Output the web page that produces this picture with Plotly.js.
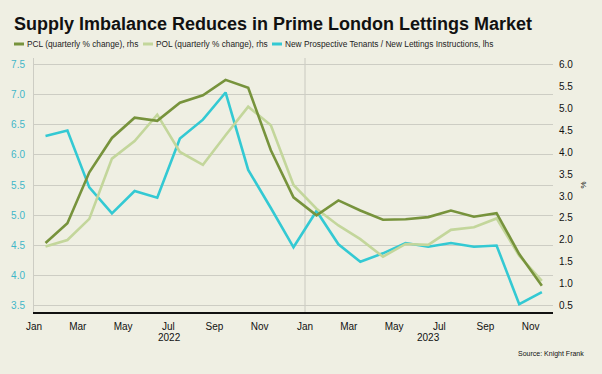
<!DOCTYPE html>
<html><head><meta charset="utf-8">
<script src="https://cdn.plot.ly/plotly-3.0.1.min.js"></script>
<style>html,body{margin:0;padding:0;background:#efefe3;}#chart{width:602px;height:374px;}</style>
</head><body><div id="chart"></div>
<script>
const months = ["2022-01","2022-02","2022-03","2022-04","2022-05","2022-06","2022-07","2022-08","2022-09","2022-10","2022-11","2022-12",
                "2023-01","2023-02","2023-03","2023-04","2023-05","2023-06","2023-07","2023-08","2023-09","2023-10","2023-11"];
const pcl = [1.93,2.38,3.54,4.32,4.78,4.71,5.12,5.29,5.64,5.46,4.04,2.97,
             2.56,2.90,2.67,2.46,2.47,2.52,2.67,2.53,2.61,1.68,0.96];
const pol = [1.85,2.00,2.48,3.85,4.25,4.85,4.00,3.71,4.38,5.03,4.61,3.25,
             2.71,2.33,2.02,1.62,1.91,1.89,2.23,2.29,2.49,1.64,1.07];
const ratio = [6.31,6.40,5.46,5.03,5.40,5.29,6.27,6.58,7.03,5.75,5.12,4.47,
               5.07,4.52,4.23,4.37,4.54,4.48,4.54,4.48,4.50,3.53,3.73];
const seriesNames = ["PCL (quarterly % change), rhs","POL (quarterly % change), rhs","New Prospective Tenants / New Lettings Instructions, lhs"];
const tickVals = ["2022-01-01","2022-03-01","2022-05-01","2022-07-01","2022-09-01","2022-11-01",
                  "2023-01-01","2023-03-01","2023-05-01","2023-07-01","2023-09-01","2023-11-01"];
const tickText = ["Jan","Mar","May","Jul","Sep","Nov","Jan","Mar","May","Jul","Sep","Nov"];
const years = ["2022","2023"];
const yearPos = ["2022-07-02","2023-06-16"];

const colors = ["#77933c","#c3d69b","#33c9d3"];
const common = {x: months, xperiod: "M1", xperiodalignment: "middle", mode: "lines", showlegend: false};
const traces = [
  Object.assign({}, common, {y: pcl, name: seriesNames[0], yaxis: "y2", line: {color: colors[0], width: 2.6}}),
  Object.assign({}, common, {y: pol, name: seriesNames[1], yaxis: "y2", line: {color: colors[1], width: 2.6}}),
  Object.assign({}, common, {y: ratio, name: seriesNames[2], yaxis: "y", line: {color: colors[2], width: 2.6}})
];
const data = [traces[1], traces[0], traces[2]];

const font = "Liberation Sans, Arial, sans-serif";
const annotations = [
  {text: "<b>Supply Imbalance Reduces in Prime London Lettings Market</b>", xref: "paper", yref: "paper",
   x: -0.042, y: 1.0, xanchor: "left", yanchor: "bottom", yshift: 22, showarrow: false,
   font: {family: font, size: 18, color: "#111"}},
  {text: "Source: Knight Frank", xref: "paper", yref: "paper", x: 1.0, y: 0, xanchor: "right", yanchor: "middle",
   xshift: 33, yshift: -42, showarrow: false, font: {family: font, size: 7, color: "#111"}}
];
years.forEach((yr, i) => annotations.push({text: yr, xref: "x", yref: "paper", x: yearPos[i], y: 0,
  yanchor: "middle", yshift: -25, showarrow: false, font: {family: font, size: 10, color: "#111"}}));

const legX = [14, 143, 272];
const shapes = [
  {type: "line", xref: "x", yref: "paper", x0: "2023-01-01", x1: "2023-01-01", y0: 0, y1: 1,
   line: {color: "#c9c9c0", width: 1}, layer: "below"}
];
seriesNames.forEach((nm, i) => {
  shapes.push({type: "line", xref: "paper", yref: "paper", x0: (legX[i] - 34) / 519, x1: (legX[i] - 24) / 519,
    y0: 1 + 14 / 254, y1: 1 + 14 / 254, line: {color: colors[i], width: 3}});
  annotations.push({text: nm, xref: "paper", yref: "paper", x: (legX[i] - 23) / 519, y: 1 + 14 / 254,
    xanchor: "left", yanchor: "middle", showarrow: false, font: {family: font, size: 8.3, color: "#222"}});
});

const layout = {
  width: 602, height: 374,
  paper_bgcolor: "#efefe3", plot_bgcolor: "#efefe3",
  margin: {l: 34, r: 49, t: 58, b: 62},
  font: {family: font, size: 10, color: "#111"},
  xaxis: {type: "date", range: ["2022-01-01", "2023-12-01"], tickvals: tickVals, ticktext: tickText,
    showgrid: false, showline: true, linecolor: "#111", linewidth: 1.5, ticks: "", ticklabelstandoff: 4,
    tickfont: {family: font, size: 10, color: "#111"}, zeroline: false, fixedrange: true},
  yaxis: {range: [3.4, 7.6], dtick: 0.5, tick0: 3.5, tickformat: ".1f", showgrid: true, gridcolor: "#cdcdc4", gridwidth: 1,
    showline: true, linecolor: "#cdcdc4", linewidth: 1, ticks: "", ticklabelstandoff: 6, zeroline: false,
    tickfont: {family: font, size: 10, color: "#3fb6c8"}},
  yaxis2: {range: [0.3625, 6.1375], dtick: 0.5, tick0: 0.5, tickformat: ".1f", overlaying: "y", side: "right",
    showgrid: false, showline: false, ticks: "", ticklabelstandoff: 5, zeroline: false,
    tickfont: {family: font, size: 10, color: "#111"},
    title: {text: "%", standoff: 8, font: {family: font, size: 8, color: "#111"}}},
  shapes: shapes,
  annotations: annotations
};
Plotly.newPlot("chart", data, layout, {staticPlot: true, displayModeBar: false});
</script></body></html>
